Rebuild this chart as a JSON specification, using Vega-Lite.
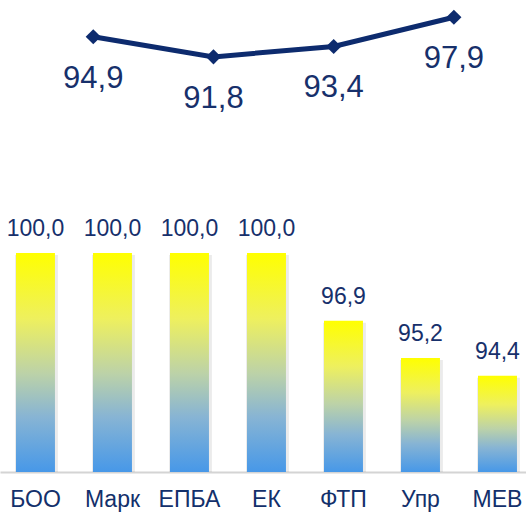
{
  "$schema": "https://vega.github.io/schema/vega-lite/v6.json",
  "width": 526,
  "height": 472,
  "padding": {"left": 0, "right": 0, "top": 0, "bottom": 40},
  "autosize": {"type": "none"},
  "background": "white",
  "config": {
    "view": {"stroke": null},
    "font": "Liberation Sans",
    "locale": {"number": {"decimal": ",", "thousands": " ", "grouping": [3], "currency": ["", ""]}}
  },
  "datasets": {
    "bars": [
      {"cat": "БОО", "value": 100.0},
      {"cat": "Марк", "value": 100.0},
      {"cat": "ЕПБА", "value": 100.0},
      {"cat": "ЕК", "value": 100.0},
      {"cat": "ФТП", "value": 96.9},
      {"cat": "Упр", "value": 95.2},
      {"cat": "МЕВ", "value": 94.4}
    ],
    "line": [
      {"n": 1, "v": 94.9},
      {"n": 2, "v": 91.8},
      {"n": 3, "v": 93.4},
      {"n": 4, "v": 97.9}
    ]
  },
  "layer": [
    {
      "data": {"name": "bars"},
      "encoding": {
        "x": {
          "field": "cat", "type": "nominal", "sort": null,
          "scale": {"paddingInner": 0.494, "paddingOuter": 0.1625, "align": 0.639},
          "axis": {
            "title": null, "ticks": false, "tickSize": 0, "grid": false,
            "domainColor": "#d4d4d4", "domainWidth": 2,
            "labelFontSize": 23, "labelColor": "#13306b", "labelPadding": 16,
            "labelAngle": 0, "labelFont": "Liberation Sans"
          }
        },
        "y": {
          "field": "value", "type": "quantitative",
          "scale": {"domain": [90, 111.55], "zero": false, "nice": false},
          "axis": null
        }
      },
      "layer": [
        {
          "mark": {"type": "bar", "color": "#000000", "opacity": 0.08, "xOffset": 1, "yOffset": 2, "width": {"band": 1.1}},
          "encoding": {"y2": {"datum": 90}}
        },
        {
          "mark": {
            "type": "bar",
            "color": {
              "gradient": "linear", "x1": 0, "y1": 0, "x2": 0, "y2": 1,
              "stops": [
                {"offset": 0, "color": "#ffff00"},
                {"offset": 0.3, "color": "#eef05e"},
                {"offset": 0.55, "color": "#bcd2a8"},
                {"offset": 0.75, "color": "#87b4d4"},
                {"offset": 1, "color": "#4798e8"}
              ]
            }
          },
          "encoding": {"y2": {"datum": 90}}
        },
        {
          "mark": {"type": "text", "baseline": "alphabetic", "align": "center", "dy": -17, "fontSize": 23, "color": "#17306b"},
          "encoding": {"text": {"field": "value", "type": "quantitative", "format": ".1f"}}
        }
      ]
    },
    {
      "data": {"name": "line"},
      "encoding": {
        "x": {"field": "n", "type": "quantitative", "scale": {"domain": [0.224, 4.6], "nice": false, "zero": false}, "axis": null},
        "y": {"field": "v", "type": "quantitative", "scale": {"domain": [27.93, 100.55], "nice": false, "zero": false}, "axis": null}
      },
      "layer": [
        {"mark": {"type": "line", "color": "#0d2b6e", "strokeWidth": 5}},
        {"mark": {"type": "point", "shape": "diamond", "filled": true, "size": 230, "color": "#0d2b6e", "opacity": 1}},
        {
          "mark": {"type": "text", "baseline": "alphabetic", "align": "center", "dy": 51, "fontSize": 31, "color": "#17306b"},
          "encoding": {"text": {"field": "v", "type": "quantitative", "format": ".1f"}}
        }
      ]
    }
  ],
  "resolve": {"scale": {"x": "independent", "y": "independent"}, "axis": {"x": "independent", "y": "independent"}}
}
